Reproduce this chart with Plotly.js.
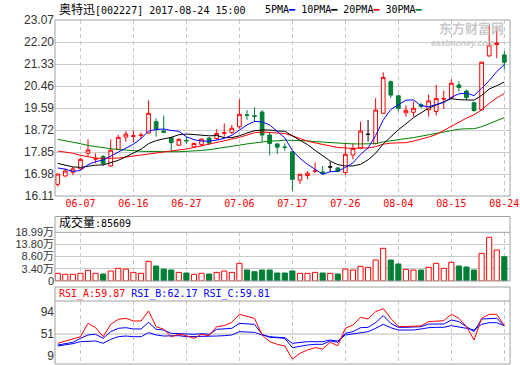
<!DOCTYPE html>
<html><head><meta charset="utf-8">
<script src="https://cdn.plot.ly/plotly-3.0.1.min.js"></script>
<style>html,body{margin:0;padding:0;background:#fff;}#chart{width:520px;height:365px;}</style>
</head><body><div id="chart"></div>
<script>
const dates = ['2017-06-02','2017-06-05','2017-06-06','2017-06-07','2017-06-08','2017-06-09','2017-06-12','2017-06-13','2017-06-14','2017-06-15','2017-06-16','2017-06-19','2017-06-20','2017-06-21','2017-06-22','2017-06-23','2017-06-26','2017-06-27','2017-06-28','2017-06-29','2017-06-30','2017-07-03','2017-07-04','2017-07-05','2017-07-06','2017-07-07','2017-07-10','2017-07-11','2017-07-12','2017-07-13','2017-07-14','2017-07-17','2017-07-18','2017-07-19','2017-07-20','2017-07-21','2017-07-24','2017-07-25','2017-07-26','2017-07-27','2017-07-28','2017-07-31','2017-08-01','2017-08-02','2017-08-03','2017-08-04','2017-08-07','2017-08-08','2017-08-09','2017-08-10','2017-08-11','2017-08-14','2017-08-15','2017-08-16','2017-08-17','2017-08-18','2017-08-21','2017-08-22','2017-08-23','2017-08-24'];
const openP  = [16.57,16.90,17.05,17.19,17.80,17.57,17.67,17.30,17.96,18.44,18.47,18.50,18.60,19.05,18.68,18.42,18.12,18.31,18.05,18.15,18.40,18.38,18.59,18.62,18.85,19.32,19.28,19.43,18.52,18.17,18.05,17.86,16.74,16.92,17.09,17.06,17.26,17.22,17.04,17.73,18.00,18.55,18.19,19.38,20.63,20.07,19.40,19.42,19.72,19.52,19.45,19.94,20.00,20.50,20.26,19.80,19.52,21.65,22.10,21.69];
const highP  = [16.99,17.20,17.27,17.61,18.35,17.80,17.73,18.35,18.53,18.68,18.70,18.62,19.88,19.18,19.29,18.45,18.40,18.45,18.22,18.38,18.44,18.75,18.98,18.92,19.93,19.51,19.62,19.51,18.60,18.20,18.19,17.88,16.98,17.10,17.44,17.30,17.47,17.25,18.20,18.19,19.05,19.12,19.98,21.00,20.68,20.12,19.70,19.85,19.80,20.12,20.50,20.28,20.72,20.65,20.32,19.84,21.42,22.87,22.78,21.85];
const lowP   = [16.48,16.88,16.93,17.16,17.66,17.40,17.30,17.28,17.92,18.26,18.23,18.36,18.58,18.46,18.60,17.86,18.08,18.17,18.00,18.06,18.13,18.33,18.46,18.55,18.78,19.12,19.05,18.25,17.72,17.77,17.90,16.32,16.59,16.78,17.01,16.94,17.05,17.06,16.94,17.56,17.98,18.26,18.15,19.35,19.98,19.45,19.25,19.25,19.58,19.25,19.30,19.55,19.94,20.24,19.91,19.44,19.50,21.62,21.56,21.12];
const closeP = [16.98,17.10,17.18,17.56,17.93,17.58,17.40,17.92,18.43,18.56,18.49,18.52,19.38,18.76,18.63,18.22,18.35,18.29,18.19,18.36,18.20,18.58,18.61,18.79,19.34,19.30,19.26,18.52,18.19,18.04,18.03,16.77,16.97,17.01,17.11,17.00,17.26,17.08,17.76,17.99,18.68,18.55,19.51,20.80,20.10,19.58,19.50,19.58,19.66,19.87,19.97,19.96,20.57,20.40,20.00,19.49,21.40,22.08,22.16,21.40];
const ma5  = [17.22,17.17,17.08,17.12,17.35,17.47,17.53,17.68,17.85,17.98,18.16,18.38,18.68,18.74,18.76,18.70,18.67,18.45,18.34,18.28,18.28,18.32,18.39,18.51,18.70,18.92,19.06,19.04,18.92,18.66,18.41,17.91,17.60,17.36,17.18,16.97,17.07,17.09,17.24,17.42,17.75,18.01,18.50,19.11,19.53,19.71,19.90,19.91,19.68,19.64,19.72,19.81,20.01,20.15,20.18,20.08,20.37,20.67,21.03,21.31];
const ma10 = [17.40,17.33,17.26,17.24,17.28,17.33,17.34,17.42,17.52,17.66,17.82,17.96,18.18,18.30,18.37,18.43,18.53,18.56,18.54,18.52,18.49,18.50,18.42,18.42,18.49,18.60,18.69,18.72,18.72,18.68,18.67,18.49,18.32,18.14,17.92,17.69,17.49,17.35,17.30,17.30,17.36,17.54,17.80,18.17,18.47,18.73,18.96,19.21,19.40,19.58,19.71,19.85,19.96,19.92,19.91,19.90,20.09,20.34,20.47,20.62];
const ma20 = [17.89,17.85,17.80,17.72,17.66,17.61,17.60,17.60,17.61,17.65,17.69,17.73,17.77,17.80,17.83,17.87,17.92,17.97,18.03,18.09,18.15,18.23,18.30,18.36,18.43,18.52,18.61,18.64,18.63,18.60,18.58,18.49,18.37,18.28,18.21,18.15,18.09,18.03,18.01,17.99,18.01,18.01,18.06,18.16,18.20,18.21,18.22,18.28,18.35,18.44,18.54,18.70,18.88,19.05,19.19,19.32,19.52,19.77,19.99,20.16];
const ma30 = [18.35,18.30,18.24,18.18,18.11,18.06,18.02,17.98,17.95,17.92,17.90,17.88,17.87,17.86,17.86,17.86,17.86,17.87,17.88,17.91,17.94,17.98,18.02,18.07,18.12,18.17,18.21,18.25,18.28,18.29,18.32,18.31,18.31,18.29,18.26,18.24,18.24,18.21,18.19,18.17,18.17,18.17,18.18,18.25,18.30,18.34,18.38,18.42,18.47,18.52,18.58,18.63,18.69,18.75,18.77,18.77,18.85,18.96,19.10,19.21];
const volume = [1.48,1.06,1.06,1.48,2.75,1.48,1.19,2.47,3.62,3.29,1.88,1.48,6.61,4.59,3.29,2.89,1.88,1.61,1.06,1.48,1.19,1.88,2.47,1.88,5.75,2.89,2.17,2.89,2.89,1.61,1.61,2.47,1.48,1.48,1.88,1.61,1.48,1.19,3.29,2.89,4.45,4.03,7.16,12.16,7.16,5.46,3.18,2.89,2.89,4.03,5.75,3.62,6.19,4.59,4.16,2.89,10.01,16.85,11.42,8.56];
const rsiA = [33,37.5,42.6,45.8,71.6,63.2,45.8,69.7,79.4,81.3,76.2,76.2,95.6,65.2,60,45.8,50.4,47.8,42.6,50.4,47.8,65.2,67.1,73.6,89.1,84.6,81.3,49.1,36.2,31,27.8,2.6,13.6,20.1,24.6,22,34.9,28.4,62,68.4,83.2,80,94.2,100,81.3,65.2,65.2,65.2,66.5,74.9,76.2,76.8,89.1,81.3,65.2,39.4,81.3,89.1,89.1,67.1];
const rsiB = [29.7,32.3,34.9,42.6,49.1,50.4,42.6,55.5,62,63.2,60.7,60.7,73.6,60,58.7,52.3,51.6,51.6,50.4,51.6,50.4,60,60.7,62,71.6,70.3,69.7,50.4,44.6,43.9,42.6,24.6,27.8,29.7,31,31,37.5,34.9,52.3,55.5,63.2,63.9,72.9,86.5,71.6,63.9,63.9,63.9,65.2,70.3,70.3,70.3,78.1,74.9,65.2,55.5,80,81.3,81.3,67.1];
const rsiC = [27.8,29.7,32.3,36.2,37.5,37.5,33,40.7,45.8,47.1,45.8,45.8,53.6,49.1,47.1,47.1,47.8,45.8,45.8,47.1,45.8,47.1,47.8,49.1,55.5,55.5,54.2,49.1,45.8,44.6,43.9,33,34.9,36.2,36.2,36.2,39.4,37.5,49.1,51,54.2,55.5,62,69.7,63.2,58.7,58.7,58.7,60.7,63.2,63.9,63.9,67.1,65.2,62,58.7,69.7,72.9,72.9,67.1];
const tickDates = ['2017-06-07','2017-06-16','2017-06-27','2017-07-06','2017-07-17','2017-07-26','2017-08-04','2017-08-15','2017-08-24'];
const tickLabels = ['06-07','06-16','06-27','07-06','07-17','07-26','08-04','08-15','08-24'];
const priceTicks = [16.11,16.98,17.85,18.72,19.59,20.46,21.33,22.20,23.07];
const volAxisMin = -1.8;
const volTicks = [-1.8,3.40,8.60,13.80,18.99];
const volTickText = ['0','3.40万','8.60万','13.80万','18.99万'];
const rsiTicks = [9,51,94];
const rsiLast = {A:'59.87', B:'62.17', C:'59.81'};
const lastVolume = '85609';

const RED='#ff0000', GREEN='#007f37', BLUE='#0000ff';
function pick(f){const r={x:[],open:[],high:[],low:[],close:[]};dates.forEach((d,i)=>{if(f(i)){r.x.push(d);r.open.push(openP[i]);r.high.push(highP[i]);r.low.push(lowP[i]);r.close.push(closeP[i]);}});return r;}
function candle(sub,lc,fc){const st={line:{color:lc,width:1},fillcolor:fc};return Object.assign({type:'candlestick',xaxis:'x',yaxis:'y',increasing:st,decreasing:st,whiskerwidth:0,hoverinfo:'skip',showlegend:false},sub);}
const up = candle(pick(i=>closeP[i]>openP[i]),RED,'#ffffff');
const dn = candle(pick(i=>closeP[i]<openP[i]),GREEN,GREEN);
const dj = candle(pick(i=>closeP[i]===openP[i]),'#000000','#000000');
function ma(y,c){return {type:'scatter',mode:'lines',x:dates,y:y,xaxis:'x',yaxis:'y',line:{color:c,width:1},hoverinfo:'skip',showlegend:false};}
const isUp = dates.map((d,i)=>closeP[i]>=openP[i]);
// bars rise from the panel floor (axis minimum) up to each volume value
const vol = {type:'bar',x:dates,y:volume.map(v=>v-volAxisMin),base:volAxisMin,xaxis:'x',yaxis:'y2',
  marker:{color:isUp.map(u=>u?'#ffffff':GREEN),line:{color:isUp.map(u=>u?RED:GREEN),width:1}},hoverinfo:'skip',showlegend:false};
function rl(y,c){return {type:'scatter',mode:'lines',x:dates,y:y,xaxis:'x',yaxis:'y3',line:{color:c,width:1},hoverinfo:'skip',showlegend:false};}

const H=344, T=20;
const py = p => (364-p)/H;
const px = p => (p-55)/455;
const FRAME='#a0a0a0';
const mono = 'DejaVu Sans Mono, Noto Sans CJK SC, monospace';
const cjk = s => '<span style="font-size:12px">'+s+'</span>';
function rect(x0,y0,x1,y1){return {type:'rect',xref:'paper',yref:'paper',x0:x0,x1:x1,y0:y0,y1:y1,line:{color:FRAME,width:1},fillcolor:'rgba(0,0,0,0)',layer:'above'};}
function hline(y){return {type:'line',xref:'paper',yref:'paper',x0:0,x1:1,y0:y,y1:y,line:{color:FRAME,width:1},layer:'above'};}

const layout = {
  width:520, height:365, margin:{l:55,r:10,t:T,b:1},
  paper_bgcolor:'#ffffff', plot_bgcolor:'#ffffff', showlegend:false,
  boxmode:'overlay', boxgap:0.3, bargap:0.32,
  xaxis:{type:'category',categoryorder:'array',categoryarray:dates,range:[-0.36,59.75],anchor:'y',
    tickmode:'array',tickvals:tickDates,ticktext:tickLabels,ticks:'',
    tickfont:{family:mono,size:10,color:RED},showgrid:true,gridcolor:'#c8c8c8',griddash:'4px,3px',gridwidth:1,
    zeroline:false,showline:false,rangeslider:{visible:false},fixedrange:true},
  yaxis:{domain:[py(196),1],range:[16.11,23.07],tickmode:'array',tickvals:priceTicks,ticktext:priceTicks.map(v=>v.toFixed(2)),
    ticks:'',tickfont:{family:'Liberation Sans, Arial, sans-serif',size:12,color:'#333333'},gridcolor:'#cccccc',zeroline:false,fixedrange:true},
  yaxis2:{domain:[py(281),py(232.3)],anchor:'x',range:[volAxisMin,18.99],tickmode:'array',tickvals:volTicks,ticktext:volTickText,
    ticks:'',tickfont:{family:'Liberation Sans, Noto Sans CJK SC, sans-serif',size:11,color:'#333333'},gridcolor:'#cccccc',zeroline:false,fixedrange:true},
  yaxis3:{domain:[0,py(301)],anchor:'x',range:[-7,114.8],tickmode:'array',tickvals:rsiTicks,ticks:'',showgrid:false,
    tickfont:{family:'Liberation Sans, Arial, sans-serif',size:12,color:'#333333'},zeroline:false,fixedrange:true},
  shapes:[
    rect(0,py(196),1,1),
    rect(0,py(281),1,py(216.5)), hline(py(232.3)),
    rect(0,0,1,py(287)), hline(py(301)),
    {type:'line',xref:'paper',yref:'y3',x0:0,x1:1,y0:51,y1:51,line:{color:'#b8b8b8',width:1},layer:'below'}
  ],
  annotations:[
    {xref:'paper',yref:'paper',x:px(57),y:py(10),xanchor:'left',yanchor:'middle',showarrow:false,
      text:cjk('奥特迅')+'[002227] 2017-08-24 15:00',font:{family:mono,size:10,color:'#000000'}},
    {xref:'paper',yref:'paper',x:px(263),y:py(10),xanchor:'left',yanchor:'middle',showarrow:false,
      text:'5PMA<span style="color:'+BLUE+'">━</span> 10PMA<span style="color:#000000">━</span> 20PMA<span style="color:'+RED+'">━</span> 30PMA<span style="color:'+GREEN+'">━</span>',
      font:{family:mono,size:10,color:'#000000'}},
    {xref:'paper',yref:'paper',x:px(438),y:py(27.5),xanchor:'left',yanchor:'middle',showarrow:false,borderpad:0,
      text:'<b>东方财富网</b>',font:{family:'Noto Sans CJK SC',size:13,color:'#cacaca'}},
    {xref:'paper',yref:'paper',x:px(430),y:py(43),xanchor:'left',yanchor:'middle',showarrow:false,borderpad:0,
      text:'<b><i>eastmoney.com</i></b>',font:{family:'Liberation Sans, Arial',size:8.5,color:'#cacaca'}},
    {xref:'paper',yref:'paper',x:px(57),y:py(223),xanchor:'left',yanchor:'middle',showarrow:false,
      text:cjk('成交量')+':'+lastVolume,font:{family:mono,size:10,color:'#000000'}},
    {xref:'paper',yref:'paper',x:px(57),y:py(294),xanchor:'left',yanchor:'middle',showarrow:false,
      text:'<span style="color:'+RED+'">RSI_A:'+rsiLast.A+'</span> <span style="color:'+BLUE+'">RSI_B:'+rsiLast.B+'</span> <span style="color:'+BLUE+'">RSI_C:'+rsiLast.C+'</span>',
      font:{family:mono,size:10,color:BLUE}}
  ]
};
const data = [ma(ma30,'#008000'),ma(ma20,RED),ma(ma10,'#000000'),ma(ma5,BLUE),up,dn,dj,vol,rl(rsiC,BLUE),rl(rsiB,BLUE),rl(rsiA,RED)];
Plotly.newPlot('chart',data,layout,{staticPlot:true,displayModeBar:false});
</script></body></html>
